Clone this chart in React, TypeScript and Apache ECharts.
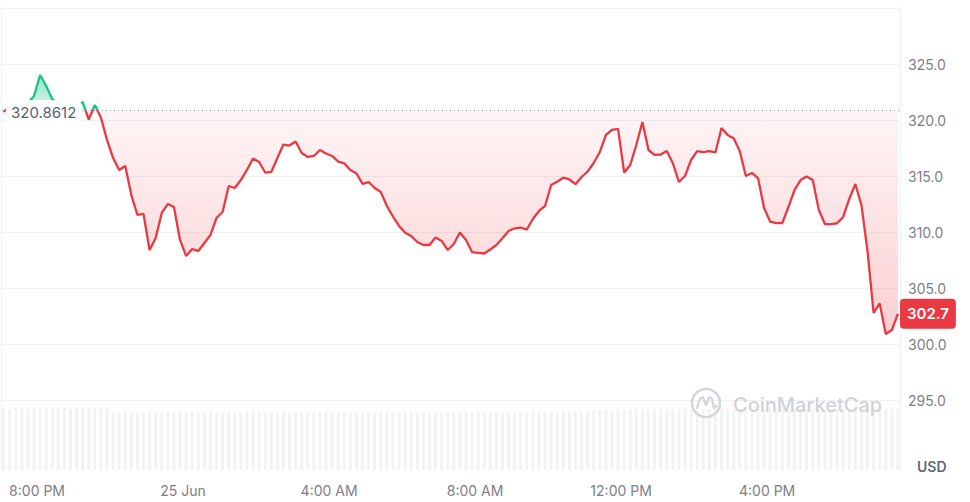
import React, { useEffect, useRef } from "react";
import * as echarts from "echarts";

// hours relative to 20:00 on 24 Jun; first sample at 19:05, one every 10 minutes
const START_HOUR = -55 / 60;
const STEP_HOURS = 10 / 60;
const X_MIN = -0.96;
const X_MAX = 23.64;
const Y_MIN = 290;
const Y_MAX = 330;
const Y_INTERVAL = 5;
const BASELINE = 320.8612;
const LAST_PRICE = 302.7;

const prices = [
  320.71, 321.25, 321.43, 321.25, 321.52, 322.14, 324.02, 323.04, 321.88, 321.43,
  321.25, 321.43, 321.16, 321.61, 320.04, 321.34, 320.22, 318.21, 316.61, 315.54,
  315.89, 313.3, 311.52, 311.61, 308.39, 309.46, 311.7, 312.5, 312.23, 309.29,
  307.86, 308.48, 308.3, 309.02, 309.73, 311.25, 311.79, 314.11, 313.93, 314.64,
  315.54, 316.56, 316.25, 315.31, 315.36, 316.61, 317.81, 317.72, 318.08, 317.05,
  316.7, 316.79, 317.32, 317.01, 316.79, 316.29, 316.12, 315.54, 315.22, 314.29,
  314.46, 313.93, 313.57, 312.32, 311.38, 310.54, 309.94, 309.64, 309.11, 308.84,
  308.84, 309.51, 309.2, 308.39, 308.93, 309.96, 309.29, 308.21, 308.13, 308.08,
  308.44, 308.84, 309.44, 310.09, 310.33, 310.4, 310.22, 311.16, 311.88, 312.32,
  314.2, 314.49, 314.85, 314.69, 314.27, 314.91, 315.4, 316.16, 317.14, 318.66,
  319.11, 319.2, 315.31, 315.98, 317.77, 319.82, 317.32, 316.88, 316.92, 317.23,
  316.16, 314.46, 315.0, 316.43, 317.23, 317.14, 317.23, 317.1, 319.29, 318.66,
  318.37, 317.23, 315.0, 315.27, 314.82, 312.14, 310.92, 310.8, 310.8, 312.23,
  313.75, 314.64, 314.96, 314.64, 311.96, 310.71, 310.71, 310.78, 311.34, 312.95,
  314.29, 312.41, 308.3, 302.77, 303.62, 300.89, 301.25, 302.7,
];

const volumes = [
  62, 61, 62, 62, 61, 62, 62, 61, 62, 62, 62, 61, 62, 61, 62, 62, 61, 62,
  58, 58, 59, 58, 58, 58, 59, 58, 58, 58, 58, 59, 58, 58, 58, 58, 59, 58, 58, 58, 58, 58, 59,
  58, 58, 58, 58, 58, 59, 58, 58, 58, 58, 58, 58, 59, 58, 58, 58, 58, 58, 58,
  58, 58, 58, 58, 57, 58, 58, 58, 58, 58, 57, 58, 58, 58, 58, 58, 58, 57, 58, 58,
  58, 58, 58, 58, 58, 58, 58, 59, 58, 58, 59, 58, 59, 59, 59, 59, 60, 59, 60, 60,
  60, 61, 60, 61, 61, 60, 61, 61, 61, 60, 61, 61, 61, 61, 60, 61, 61, 61, 61, 61,
  60, 61, 61, 61, 61, 61, 61, 60, 61, 61, 61, 61, 61, 61, 60, 61, 61, 61, 61, 61,
  61, 61, 60, 61, 61, 61, 61, 61,
];

const xTickHours = [0, 4, 8, 12, 16, 20];
const xTickLabels = ["8:00 PM", "25 Jun", "4:00 AM", "8:00 AM", "12:00 PM", "4:00 PM"];

const GREEN = "#16c784";
const RED = "#ea3943";
const LABEL_GRAY = "#7c8088";
const FONT = "Inter, 'Noto Sans', sans-serif";

export default function App() {
  const ref = useRef<HTMLDivElement>(null);

  useEffect(() => {
    document.body.style.margin = "0";
    if (!ref.current) return;
    const chart = echarts.init(ref.current, undefined, { renderer: "svg" });

    const xOf = (i: number) => START_HOUR + i * STEP_HOURS;
    const priceData = prices.map((v, i) => [xOf(i), v]);
    const upperData = prices.map((v, i) => [xOf(i), Math.max(v, BASELINE)]);
    const lowerData = prices.map((v, i) => [xOf(i), Math.min(v, BASELINE)]);
    const volumeData = volumes.map((v, i) => [xOf(i), v]);

    const gridTop = 8;
    const gridHeight = (Y_MAX - Y_MIN) * 11.2;
    const baseOff = (Y_MAX - BASELINE) / (Y_MAX - Y_MIN);

    const lineGrad = new echarts.graphic.LinearGradient(
      0, gridTop, 0, gridTop + gridHeight,
      [
        { offset: 0, color: GREEN },
        { offset: baseOff, color: GREEN },
        { offset: baseOff, color: RED },
        { offset: 1, color: RED },
      ],
      true
    );
    const greenFill = new echarts.graphic.LinearGradient(0, 0, 0, 1, [
      { offset: 0, color: "rgba(22,199,132,0.45)" },
      { offset: 1, color: "rgba(22,199,132,0.18)" },
    ]);
    const redFill = new echarts.graphic.LinearGradient(0, 0, 0, 1, [
      { offset: 0, color: "rgba(234,57,67,0.05)" },
      { offset: 1, color: "rgba(234,57,67,0.24)" },
    ]);

    const areaSeries = (data: number[][], fill: any) => ({
      type: "line",
      xAxisIndex: 0,
      yAxisIndex: 0,
      data,
      symbol: "none",
      showSymbol: false,
      silent: true,
      lineStyle: { width: 0, opacity: 0 },
      areaStyle: { origin: BASELINE, color: fill, opacity: 1 },
      z: 2,
    });

    chart.setOption({
      animation: false,
      textStyle: { fontFamily: FONT },
      grid: [
        { left: 2, right: 70, top: gridTop, height: gridHeight },
        { left: 2, right: 70, top: 400, height: 70 },
      ],
      xAxis: [
        { type: "value", gridIndex: 0, min: X_MIN, max: X_MAX, show: false },
        {
          type: "value",
          gridIndex: 1,
          min: X_MIN,
          max: X_MAX,
          axisLine: { show: false },
          axisTick: { show: false },
          splitLine: { show: false },
          axisLabel: {
            customValues: xTickHours,
            formatter: (v: number) => {
              const k = xTickHours.indexOf(Math.round(v));
              return k >= 0 ? xTickLabels[k] : "";
            },
            color: LABEL_GRAY,
            fontSize: 14,
            fontFamily: FONT,
            margin: 13,
          },
        },
      ],
      yAxis: [
        {
          type: "value",
          gridIndex: 0,
          position: "right",
          min: Y_MIN,
          max: Y_MAX,
          interval: Y_INTERVAL,
          axisLine: { show: false },
          axisTick: { show: false },
          splitLine: { show: true, showMinLine: false, lineStyle: { color: "#f0f1f3", width: 1 } },
          axisLabel: {
            margin: 8,
            color: LABEL_GRAY,
            fontSize: 14,
            fontFamily: FONT,
            formatter: (v: number) => (v === Y_MIN || v === Y_MAX ? "" : v.toFixed(1)),
          },
        },
        { type: "value", gridIndex: 1, min: 0, max: 70, show: false },
      ],
      series: [
        {
          type: "bar",
          xAxisIndex: 1,
          yAxisIndex: 1,
          data: volumeData,
          barWidth: 3,
          silent: true,
          itemStyle: { color: "#f2f3f5" },
          z: 1,
        },
        areaSeries(upperData, greenFill),
        areaSeries(lowerData, redFill),
        {
          type: "line",
          xAxisIndex: 0,
          yAxisIndex: 0,
          data: priceData,
          symbol: "none",
          showSymbol: false,
          lineStyle: { width: 2.3, color: lineGrad },
          z: 3,
          markLine: {
            silent: true,
            symbol: ["none", "none"],
            animation: false,
            data: [
              {
                yAxis: BASELINE,
                lineStyle: { type: [1, 3], color: "#9ea3ab", width: 1 },
                label: { show: false },
              },
              {
                yAxis: LAST_PRICE,
                lineStyle: { color: "rgba(255,255,255,0)", width: 1 },
                label: {
                  show: true,
                  position: "end",
                  distance: 0,
                  formatter: () => LAST_PRICE.toFixed(1),
                  color: "#ffffff",
                  opacity: 1,
                  fontWeight: 600,
                  fontSize: 15,
                  fontFamily: FONT,
                  backgroundColor: RED,
                  borderRadius: 4,
                  padding: [8, 7, 7, 7],
                },
              },
            ],
          },
        },
      ],
      graphic: [
        { type: "line", shape: { x1: 1.5, y1: 6, x2: 1.5, y2: 470 }, style: { stroke: "#eef0f2", lineWidth: 1 }, z: 0, silent: true },
        { type: "line", shape: { x1: 900.5, y1: 6, x2: 900.5, y2: 470 }, style: { stroke: "#eef0f2", lineWidth: 1 }, z: 0, silent: true },
        {
          type: "circle",
          shape: { cx: 706, cy: 403, r: 14 },
          style: { fill: "none", stroke: "#d3d6db", lineWidth: 2.5 },
          z: 5,
          silent: true,
        },
        {
          type: "polyline",
          shape: { points: [[697, 409], [700, 399], [703, 397.5], [706, 405], [709, 397.5], [712, 399], [714, 408], [717, 405]], smooth: 0.3 },
          style: { fill: "none", stroke: "#d3d6db", lineWidth: 2.5 },
          z: 5,
          silent: true,
        },
        {
          type: "text",
          x: 733,
          y: 405,
          style: { text: "CoinMarketCap", fill: "#cfd2d7", fontSize: 20, fontWeight: 500, fontFamily: FONT, verticalAlign: "middle" },
          z: 5,
          silent: true,
        },
        {
          type: "rect",
          shape: { x: 6, y: 100, width: 76, height: 24, r: 6 },
          style: { fill: "rgba(255,255,255,0.92)" },
          z: 100,
          silent: true,
        },
        {
          type: "text",
          x: 11,
          y: 112.5,
          style: { text: BASELINE.toString(), fill: "#58606e", fontSize: 15, fontFamily: FONT, verticalAlign: "middle" },
          z: 101,
          silent: true,
        },
        {
          type: "text",
          x: 917,
          y: 466,
          style: { text: "USD", fill: "#5f6673", fontSize: 14, fontWeight: 600, fontFamily: FONT, verticalAlign: "middle" },
          z: 101,
          silent: true,
        },
      ],
    });

    return () => chart.dispose();
  }, []);

  return <div ref={ref} style={{ width: 970, height: 502 }} />;
}
